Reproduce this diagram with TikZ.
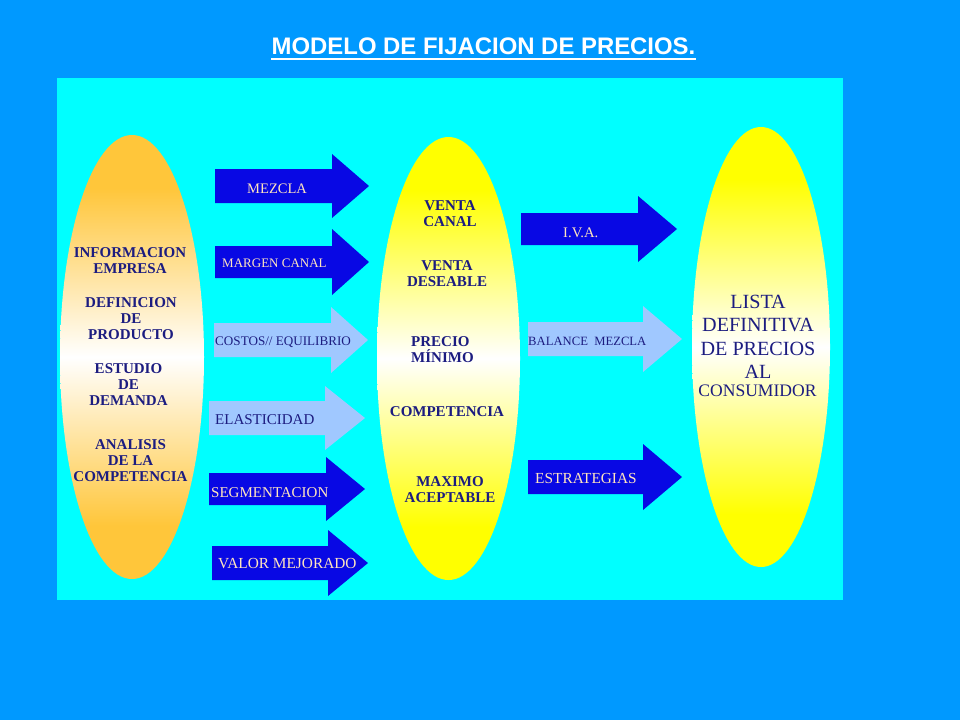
\documentclass[tikz,border=0pt]{standalone}
\usepackage{fontspec}
\setmainfont{Liberation Serif}
\newfontfamily\titlefont{Liberation Sans}
\definecolor{bgblue}{RGB}{0,153,255}
\definecolor{panel}{RGB}{0,255,255}
\definecolor{darkarrow}{RGB}{8,8,228}
\definecolor{lightarrow}{RGB}{160,200,255}
\definecolor{navy}{RGB}{28,28,128}
\definecolor{paletan}{RGB}{255,228,190}
\definecolor{orng}{RGB}{255,198,58}
\definecolor{yel}{RGB}{255,255,0}
\pgfdeclareverticalshading{orangesh}{100bp}{color(0bp)=(orng); color(25bp)=(orng); color(31bp)=(orng); color(50bp)=(white); color(69bp)=(orng); color(75bp)=(orng); color(100bp)=(orng)}
\pgfdeclareverticalshading{yellowsh}{100bp}{color(0bp)=(yel); color(25bp)=(yel); color(31bp)=(yel); color(50bp)=(white); color(69bp)=(yel); color(75bp)=(yel); color(100bp)=(yel)}
\newcommand{\blockarrow}[7]{\fill[#1] (#2,#5-#6) -- (#3,#5-#6) -- (#3,#5-#7) -- (#4,#5) -- (#3,#5+#7) -- (#3,#5+#6) -- (#2,#5+#6) -- cycle;}
\tikzset{
  elltext/.style={inner sep=0pt, align=center, anchor=north, text=navy, font=\bfseries\fontsize{12.8}{13.66}\selectfont},
  darkarr/.style={fill=darkarrow},
  lightarr/.style={fill=lightarrow},
  ondark/.style={inner sep=0pt, anchor=base west, text=paletan},
  onlight/.style={inner sep=0pt, anchor=base west, text=navy},
}
\newcommand{\fsz}[1]{\fontsize{#1}{#1}\selectfont}
\begin{document}
\begin{tikzpicture}[x=0.03cm,y=-0.03cm]
\fill[bgblue] (0,0) rectangle (960,720);
\fill[panel] (57,78) rectangle (843,600);
% title
\node[inner sep=0pt, anchor=base, text=white, font=\titlefont\bfseries\fontsize{20.4}{24}\selectfont] (title) at (483.5,54) {MODELO DE FIJACION DE PRECIOS.};
\draw[white, line width=1.7pt] ([yshift=-0.15cm]title.base west) -- ([yshift=-0.15cm]title.base east);
% ellipses
\shade[shading=orangesh] (132,357) ellipse [x radius=72, y radius=222];
\shade[shading=yellowsh] (448.5,358.5) ellipse [x radius=71.5, y radius=221.5];
\shade[shading=yellowsh] (761,347) ellipse [x radius=69, y radius=220];
% left ellipse text
\node[elltext] (l1) at (130,247) {INFORMACION\\EMPRESA};
\node[elltext] (l2) at (131,297) {DEFINICION\\DE\\PRODUCTO};
\node[elltext] (l3) at (128.5,363) {ESTUDIO\\DE\\DEMANDA};
\node[elltext] (l4) at (130.5,439) {ANALISIS\\DE LA\\COMPETENCIA};
% middle ellipse text
\node[elltext] (m1) at (450,200.7) {VENTA\\CANAL};
\node[elltext] (m2) at (447,260.7) {VENTA\\DESEABLE};
\node[elltext, anchor=north west, align=left] (m3) at (411,336) {PRECIO\\MÍNIMO};
\node[elltext] (m4) at (447,406) {COMPETENCIA};
\node[elltext] (m5) at (450,476.7) {MAXIMO\\ACEPTABLE};
% right ellipse text
\node[inner sep=0pt, anchor=north, align=center, text=navy, font=\fontsize{17.2}{19.9}\selectfont] (r1) at (758,295) {LISTA\\DEFINITIVA\\DE PRECIOS\\AL};
\node[inner sep=0pt, anchor=base, text=navy, font=\fontsize{15}{15}\selectfont] (r2) at (757.5,396.7) {CONSUMIDOR};
% left arrows
\blockarrow{darkarr}{215}{332}{369}{186}{17}{32}
\node[ondark, font=\fsz{12.4}] (a1) at (247,193) {MEZCLA};
\blockarrow{darkarr}{215}{332}{369}{262}{16}{33}
\node[ondark, font=\fsz{11.1}] (a2) at (222,267) {MARGEN CANAL};
\blockarrow{lightarr}{214}{331}{368}{340}{17}{33}
\node[onlight, font=\fsz{11.2}] (a3) at (215,345) {COSTOS// EQUILIBRIO};
\blockarrow{lightarr}{209}{325}{365}{418}{17}{32}
\node[onlight, font=\fsz{12.8}] (a4) at (215,424) {ELASTICIDAD};
\blockarrow{darkarr}{209}{326}{365}{489}{16}{32}
\node[ondark, font=\fsz{12.8}] (a5) at (211,497) {SEGMENTACION};
\blockarrow{darkarr}{212}{328}{368}{563}{17}{33}
\node[ondark, font=\fsz{13.1}] (a6) at (218,568) {VALOR MEJORADO};
% right arrows
\blockarrow{darkarr}{521}{638}{677}{229}{16}{33}
\node[ondark, font=\fsz{12.5}] (b1) at (563,237) {I.V.A.};
\blockarrow{lightarr}{528}{643}{682}{339}{17}{33}
\node[onlight, font=\fsz{10.8}] (b2) at (528,345) {BALANCE\ \ MEZCLA};
\blockarrow{darkarr}{528}{643}{682}{477}{17}{33}
\node[ondark, font=\fsz{13.1}] (b3) at (535,483) {ESTRATEGIAS};
\end{tikzpicture}
\end{document}
